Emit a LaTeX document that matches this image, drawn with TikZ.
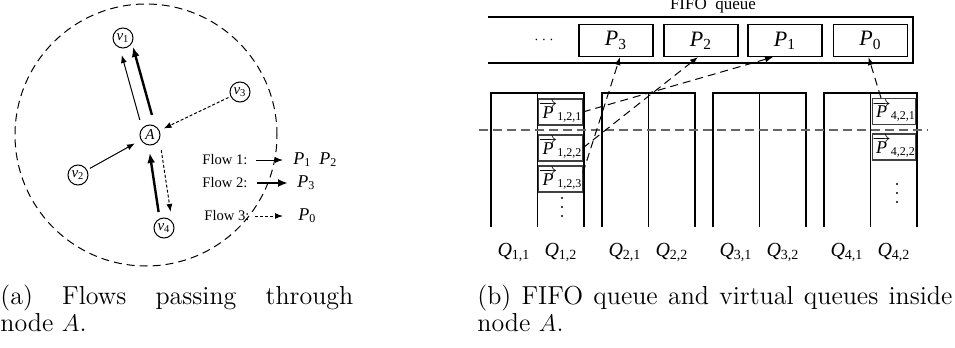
\documentclass[tikz,border=0pt]{standalone}
\usepackage{fontspec}
\usetikzlibrary{arrows.meta}
\newfontfamily\diagfont{Liberation Serif}
\newcommand{\ip}[2]{{\itshape #1}\textsubscript{#2}}
\newcommand{\vp}[1]{$\overrightarrow{\mbox{\itshape P}}$\textsubscript{#1}}

\begin{document}
\begin{tikzpicture}[x=0.5pt, y=-0.5pt,
  vnode/.style={circle, draw, line width=0.5pt, minimum size=10pt, inner sep=0, font=\diagfont\fontsize{7.5}{7.5}\selectfont},
  lbl/.style={inner sep=0, font=\diagfont\fontsize{7.3}{7.3}\selectfont},
  plbl/.style={inner sep=0, font=\diagfont\fontsize{9}{9}\selectfont},
  flowone/.style={line width=0.5pt, -{Latex[length=4pt,width=3pt]}},
  flowtwo/.style={line width=1.2pt, -{Latex[length=5pt,width=4pt]}},
  flowthree/.style={line width=0.5pt, dash pattern=on 1.5pt off 1pt, -{Latex[length=4pt,width=3pt]}},
  fifobox/.style={draw, line width=0.6pt, minimum width=37pt, minimum height=16pt, inner sep=0, font=\diagfont\fontsize{11}{11}\selectfont},
  vbox/.style={draw=black!75, line width=0.6pt, minimum width=18.5pt, minimum height=13pt, inner sep=0, font=\diagfont\fontsize{9}{9}\selectfont},
  col/.style={line width=0.7pt},
  qlbl/.style={inner sep=0, font=\diagfont\fontsize{10}{10}\selectfont},
  pkarrow/.style={line width=0.5pt, dash pattern=on 4pt off 2.5pt, -{Latex[length=4pt,width=3pt]}},
  caption/.style={inner sep=0, align=justify, font=\fontsize{13}{11.5}\selectfont}
]
\useasboundingbox (0,0) rectangle (955,348);

% (a) flows through A
\draw[line width=0.5pt, dash pattern=on 4pt off 2.5pt] (146,135) circle[radius=65.5pt];
\node[vnode] (A) at (150,135) {\itshape A};
\node[vnode] (v1) at (123,38) {\ip{v}{1}};
\node[vnode] (v2) at (78,175) {\ip{v}{2}};
\node[vnode] (v3) at (240,92) {\ip{v}{3}};
\node[vnode] (v4) at (164,228) {\ip{v}{4}};

\draw[flowone, shorten <=6.8pt, shorten >=8.6pt] (v2.center) -- (A.center);
\draw[flowone, shorten <=7.8pt, shorten >=8.8pt] ([shift={(-6,0)}]A.center) -- ([shift={(-6,0)}]v1.center);
\draw[flowtwo, shorten <=8.1pt, shorten >=9.1pt] ([shift={(-3,0)}]v4.center) -- ([shift={(-3,0)}]A.center);
\draw[flowtwo, shorten <=10.4pt, shorten >=4.6pt] ([shift={(7.5,0)}]A.center) -- ([shift={(7.5,0)}]v1.center);
\draw[flowthree, shorten <=6.4pt, shorten >=7.5pt] (v3.center) -- (A.center);
\draw[flowthree, shorten <=7.6pt, shorten >=8.1pt] ([shift={(9,0)}]A.center) -- ([shift={(9,0)}]v4.center);

% legend
\node[lbl, anchor=west] (f1) at (202,160) {Flow 1:};
\node[lbl, anchor=west] (f2) at (202,183) {Flow 2:};
\node[lbl, anchor=west] (f3) at (204,216) {Flow 3:};
\node[plbl, anchor=west] (lp1) at (293,160) {\ip{P}{1}\hspace{4pt}\ip{P}{2}};
\node[plbl, anchor=west] (lp3) at (297,183) {\ip{P}{3}};
\node[plbl, anchor=west] (lp0) at (298,216) {\ip{P}{0}};
\draw[flowone, shorten <=4pt, shorten >=5pt] (f1.east) -- (f1.east -| lp1.west);
\draw[flowtwo, shorten <=4.5pt, shorten >=4.5pt] (f2.east) -- (f2.east -| lp3.west);
\draw[flowthree, shorten <=2.5pt, shorten >=7.5pt] (f3.east) -- (f3.east -| lp0.west);

% (b) FIFO queue
\node[inner sep=0, anchor=base, font=\diagfont\fontsize{8.5}{8.5}\selectfont] (fifolbl) at (713,10) {FIFO\ \ queue};
\draw[line width=0.9pt] (488,17) -- (913,17) -- (913,63) -- (488,63);
\node[inner sep=0, font=\fontsize{7}{7}\selectfont] (dots) at (544,40) {$\cdots$};
\foreach \i/\x in {3/616, 2/701, 1/785, 0/870.5}
  \node[fifobox] (pk\i) at (\x,40.5) {\ip{P}{\i}};

% virtual queues
\foreach \q/\x in {1/491, 2/602, 3/713, 4/824}{
  \draw[col] (\x,227) |- (\x+46.5,93) -- (\x+46.5,227);
  \draw[col] (\x+46.5,93) -- (\x+93,93) -- (\x+93,227);
  \node[qlbl] (q\q1) at (\x+23,252) {\ip{Q}{\q,1}};
  \node[qlbl] (q\q2) at (\x+70,252) {\ip{Q}{\q,2}};
}
\draw[black!60, line width=0.6pt, dash pattern=on 4.5pt off 2.5pt] (479,130) -- (928,130);

\node[vbox] (v121) at (560.5,112) {\vp{1,2,1}};
\node[vbox] (v122) at (560.5,148) {\vp{1,2,2}};
\node[vbox] (v123) at (560.5,179) {\vp{1,2,3}};
\node[vbox] (v421) at (894,111.5) {\vp{4,2,1}};
\node[vbox] (v422) at (894,147) {\vp{4,2,2}};
% more packets below
\foreach \y in {198,207,216} \fill (562,\y) circle[radius=0.6pt];
\foreach \y in {184,193,202} \fill (897,\y) circle[radius=0.6pt];

\draw[pkarrow] (v121.east) -- ([shift={(-12,0)}]pk1.south);
\draw[pkarrow] (v122.east) -- ([shift={(-3,0)}]pk2.south);
\draw[pkarrow] ([shift={(0,-6)}]v123.east) -- ([shift={(4,0)}]pk3.south);
\draw[pkarrow] ([shift={(-13,0)}]v421.north) -- ([shift={(-2,0)}]pk0.south);

% captions
\node[caption, text width=176.5pt, anchor=north west] (capa) at (0,285) {(a) Flows passing through\linebreak node $A$.};
\node[caption, text width=237.5pt, anchor=north west] (capb) at (477,285) {(b) FIFO queue and virtual queues inside\linebreak node $A$.};
\end{tikzpicture}
\end{document}
